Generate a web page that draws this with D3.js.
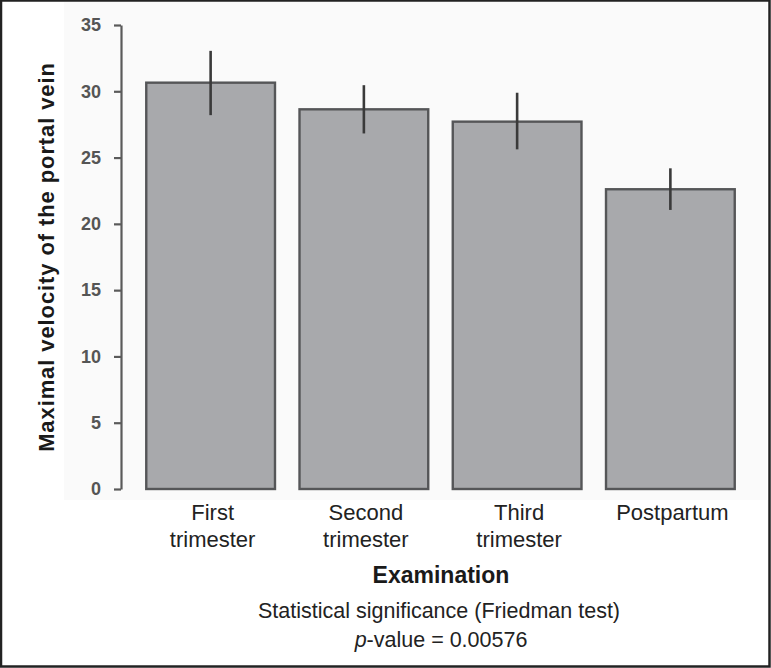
<!DOCTYPE html>
<html>
<head>
<meta charset="utf-8">
<script src="https://cdn.jsdelivr.net/npm/d3@7"></script>
<style>
  html, body { margin: 0; padding: 0; background: #fff; }
  svg { display: block; }
</style>
</head>
<body>
<svg id="chart" width="771" height="668"></svg>
<script>
const categories = [["First", "trimester"], ["Second", "trimester"], ["Third", "trimester"], ["Postpartum"]];
const categoryKeys = ["First trimester", "Second trimester", "Third trimester", "Postpartum"];
const means = [30.65, 28.64, 27.71, 22.61];
const errLow = [28.2, 26.82, 25.62, 21.05];
const errHigh = [33.05, 30.46, 29.89, 24.19];
const yTicks = [0, 5, 10, 15, 20, 25, 30, 35];

const svg = d3.select("#chart");
const W = 771, H = 668;

// faint panel background
svg.append("rect").attr("x", 64).attr("y", 2).attr("width", W - 68).attr("height", 498)
  .attr("fill", "#fafafa");

const x = d3.scaleBand().domain(categoryKeys).range([134, 747]).paddingInner(0.16).paddingOuter(0.08);
const y = d3.scaleLinear().domain([0, 35]).range([489, 25]);

// y axis
const yAxis = d3.axisLeft(y).tickValues(yTicks).tickSize(7).tickSizeOuter(0).tickPadding(13);
const gy = svg.append("g").attr("transform", "translate(121,0)").call(yAxis);
gy.select(".domain").attr("stroke", "#5a5a5a").attr("stroke-width", 2.2);
gy.selectAll(".tick line").attr("stroke", "#5a5a5a").attr("stroke-width", 2.2);
gy.selectAll(".tick text").attr("fill", "#555").attr("font-family", "'Liberation Sans', Arial, sans-serif")
  .attr("font-size", 18).attr("font-weight", "bold");

// bars
svg.append("g").selectAll("rect").data(categoryKeys).join("rect")
  .attr("x", d => x(d))
  .attr("y", (d, i) => y(means[i]))
  .attr("width", x.bandwidth())
  .attr("height", (d, i) => y(0) - y(means[i]))
  .attr("fill", "#a8a9ac")
  .attr("stroke", "#555658")
  .attr("stroke-width", 2.4);

// error bars
svg.append("g").selectAll("line").data(categoryKeys).join("line")
  .attr("x1", d => x(d) + x.bandwidth() / 2)
  .attr("x2", d => x(d) + x.bandwidth() / 2)
  .attr("y1", (d, i) => y(errHigh[i]))
  .attr("y2", (d, i) => y(errLow[i]))
  .attr("stroke", "#3a3a3a")
  .attr("stroke-width", 2.6);

// category labels
const font = "'Liberation Sans', Arial, sans-serif";
const lab = svg.append("g").selectAll("text").data(categories).join("text")
  .attr("x", (d, i) => x(categoryKeys[i]) + x.bandwidth() / 2 + 2)
  .attr("y", 520)
  .attr("text-anchor", "middle")
  .attr("font-family", font)
  .attr("font-size", 22)
  .attr("fill", "#222");
lab.each(function(d) {
  d3.select(this).selectAll("tspan").data(d).join("tspan")
    .attr("x", d3.select(this).attr("x"))
    .attr("dy", (t, j) => j === 0 ? 0 : 27)
    .text(t => t);
});

// x axis title
svg.append("text").attr("x", 441).attr("y", 583).attr("text-anchor", "middle")
  .attr("font-family", font).attr("font-size", 23).attr("font-weight", "bold").attr("fill", "#1a1a1a")
  .text("Examination");

// y axis title
svg.append("text")
  .attr("transform", "translate(54,257) rotate(-90)")
  .attr("text-anchor", "middle")
  .attr("font-family", font).attr("font-size", 22).attr("font-weight", "bold")
  .attr("letter-spacing", 0.9)
  .attr("fill", "#1a1a1a")
  .text("Maximal velocity of the portal vein");

// footnote
svg.append("text").attr("x", 439).attr("y", 618).attr("text-anchor", "middle")
  .attr("font-family", font).attr("font-size", 21.5).attr("fill", "#222")
  .text("Statistical significance (Friedman test)");
const p = svg.append("text").attr("x", 441).attr("y", 647).attr("text-anchor", "middle")
  .attr("font-family", font).attr("font-size", 21.5).attr("fill", "#222");
p.append("tspan").attr("font-style", "italic").text("p");
p.append("tspan").text("-value = 0.00576");

// frame
svg.append("rect").attr("x", 1).attr("y", 0.5).attr("width", W - 2.5).attr("height", H - 2)
  .attr("fill", "none").attr("stroke", "#222").attr("stroke-width", 2.5);
</script>
</body>
</html>
